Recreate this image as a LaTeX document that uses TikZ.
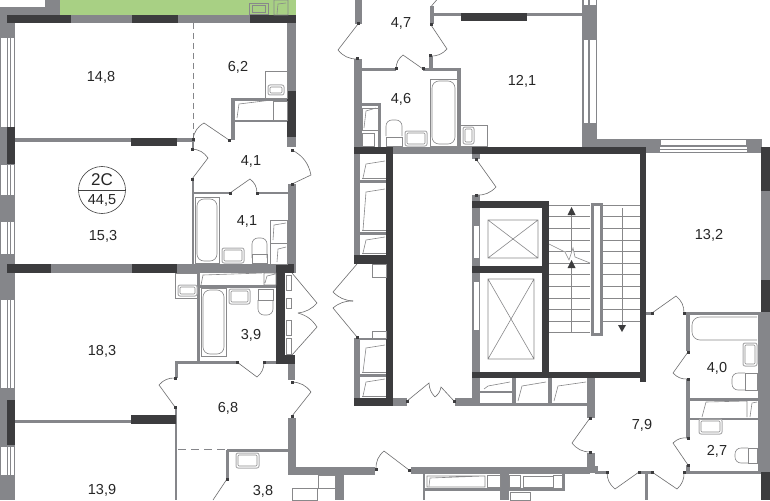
\documentclass[tikz,border=0pt]{standalone}
\usepackage{fontspec}
\setmainfont{Liberation Sans}
\definecolor{wallgray}{HTML}{85868A}
\definecolor{walldark}{HTML}{3C3C3E}
\definecolor{balcony}{HTML}{A8D084}
\definecolor{fixgray}{HTML}{88888A}
\tikzset{
    graywall/.style={fill=wallgray},
    darkwall/.style={fill=walldark},
    fixture/.style={draw=fixgray,line width=0.6pt},
    doorline/.style={draw=fixgray!80!black,line width=0.6pt},
    hinge/.style={fill=walldark},
    area/.style={font=\fontsize{14.5}{16}\selectfont,text=black!85,inner sep=0pt}
}
% door: hinge point, tip of the leaf, end of the arc, bend
\newcommand{\doorleaf}[4]{
    \draw[doorline] (#1) -- (#2) to[#4] (#3);
    \fill[hinge] ($(#1)+(-1.5,-1.5)$) rectangle ($(#1)+(1.5,1.5)$);
    \fill[hinge] ($(#3)+(-1.5,-1.5)$) rectangle ($(#3)+(1.5,1.5)$);
}
\newcommand{\bathtub}[4]{
    \draw[fixture] (#1,#2) rectangle (#3,#4);
    \draw[fixture,rounded corners=7pt] (#1+2,#2+2) rectangle (#3-2,#4-2);
}
\newcommand{\basin}[4]{
    \draw[fixture,rounded corners=2pt,line width=1pt,draw=fixgray!70] (#1,#2) rectangle (#3,#4);
    \draw[fixture,rounded corners=1pt] (#1+2,#2+2) rectangle (#3-2,#4-2);
}
\usetikzlibrary{calc}
\begin{document}
\begin{tikzpicture}[x=1pt,y=-1pt]
    \clip (0,0) rectangle (770,500);
    \fill[white] (0,0) rectangle (770,500);
    \fill[balcony] (60,0) rectangle (296,15);
    \fill[graywall] (0,7) rectangle (60,15);
    \fill[graywall] (45,0) rectangle (60,7);

    % walls, gray
    \foreach \xa/\ya/\xb/\yb in {0/15/15/500, 7/15/296/23, 15/138/195/142, 287/23/296/147,
        231/98/235/140, 235/98/287/101, 235/120/287/122, 192/140/194/150, 192/179/194/264,
        194/192/230/194, 257/192/288/194, 288/184/296/264, 15/264/296/273,
        199/285/277/288, 197/273/200/362, 175/361/237/364, 264/361/277/364, 175/362/178/378,
        175/407/177/500, 15/420/132/423, 227/449/288/452, 226/450/229/480, 288/364/295/380,
        288/418/296/473, 288/467/375/475, 411/467/590/474, 587/378/595/418, 587/453/595/473,
        335/473/344/500, 423/473/425/500, 500/473/509/500, 562/473/565/490, 423/488/565/491,
        355/0/362/24, 354/59/362/147, 362/68/396/71, 423/68/461/71, 429/56/433/68, 457/68/461/147,
        378/103/381/147, 362/103/381/106, 430/6/434/24, 434/13/582/16, 582/0/597/147,
        597/139/660/147, 660/139/747/153, 645/139/660/153, 747/139/762/153, 393/147/472/154,
        354/147/360/258, 354/338/360/400, 360/180/387/183, 360/232/387/235, 360/338/387/340,
        360/374/387/377, 393/398/407/406, 455/398/480/406, 472/147/480/159, 472/195/480/202,
        472/208/480/372, 472/378/480/405, 512/378/516/405, 548/378/552/405, 480/403/588/406,
        480/391/512/393, 646/312/652/315, 684/312/762/315, 686/315/690/351, 686/379/690/438,
        686/465/690/471, 690/398/761/401, 690/418/761/420, 595/471/607/474, 639/471/652/474,
        645/474/648/500, 684/471/762/474, 761/147/770/500, 595/466/598/474, 758/315/761/471}
        \fill[graywall] (\xa,\ya) rectangle (\xb,\yb);
    % walls, dark
    \foreach \xa/\ya/\xb/\yb in {7/15/71/23, 132/15/178/23, 250/15/296/23, 287/91/296/137,
        7/127/15/164, 131/138/177/146, 7/264/51/273, 132/264/177/273, 276/264/294/273,
        276/264/285/364, 276/355/295/364, 7/400/15/445, 131/415/176/424, 461/13/527/21,
        354/147/393/154, 472/147/646/154, 386/147/393/406, 354/255/393/264, 354/398/393/406,
        640/147/646/382, 472/372/646/378, 472/201/549/208, 472/266/543/273, 542/201/549/378,
        761/147/770/191, 761/280/770/312, 761/472/770/500}
        \fill[darkwall] (\xa,\ya) rectangle (\xb,\yb);
    % windows
    \foreach \ya/\yb in {38/127, 165/195, 222/254, 300/388, 447/475}{
        \fill[white] (1,\ya) rectangle (6.5,\yb);
        \fill[white] (7.5,\ya) rectangle (10,\yb);
        \fill[white] (11,\ya) rectangle (14,\yb);
    }
    \foreach \ya/\yb in {40/123, -5/5}{
        \fill[white] (584,\ya) rectangle (588,\yb);
        \fill[white] (589.5,\ya) rectangle (596,\yb);
    }
    \fill[white] (661,140) rectangle (746,145);
    \fill[white] (660,146.5) rectangle (747,148.5);
    \fill[white] (660,150) rectangle (747,152);
    \fill[white] (473.5,226) rectangle (479,258);
    \fill[white] (473.5,282) rectangle (479,330);
    \fill[wallgray] (591,203) rectangle (603,336);
    \fill[white] (594,206) rectangle (600,333);

    \draw[wallgray,line width=0.8pt,dash pattern=on 6pt off 4pt] (193.5,23) -- (193.5,138);
    \draw[wallgray,line width=1.2pt,dash pattern=on 8pt off 5pt] (178,449.5) -- (225,449.5);

    % doors
    \doorleaf{229,140}{204,123}{193,139}{bend right=25}
    \doorleaf{192,179}{208,158}{192,149}{bend right=25}
    \doorleaf{230,193}{250,179}{257,193}{bend left=25}
    \doorleaf{292,184}{311,175}{292,150}{bend right=25}
    \doorleaf{237,362}{257,377}{264,362}{bend right=25}
    \doorleaf{175,407}{159,385}{175,378}{bend left=25}
    \doorleaf{292,416}{311,392}{292,382}{bend right=25}
    \draw[doorline] (227,479) -- (213,500);
    \fill[hinge] (225.5,477.5) rectangle (228.5,480.5);
    \doorleaf{409,470}{384,451}{376,469}{bend right=25}
    \doorleaf{590,418}{572,443}{590,452}{bend right=25}
    \draw[doorline] (292,273) -- (317,303) to[bend left=20] (298,313);
    \draw[doorline] (292,355) -- (317,327) to[bend right=20] (298,313);
    \draw[doorline] (357,264) -- (333,292) to[bend right=20] (353,301);
    \draw[doorline] (357,337) -- (333,308) to[bend left=20] (353,301);
    \fill[hinge] (355.5,335.5) rectangle (358.5,338.5);
    \doorleaf{358,24}{338,50}{357,59}{bend right=25}
    \doorleaf{431,25}{447,49}{430,56}{bend left=25}
    \doorleaf{423,69}{403,55}{396,69}{bend right=25}
    \draw[doorline] (431.5,6) -- (440,-4);
    \doorleaf{476,159}{496,187}{476,195}{bend left=25}
    \draw[doorline] (407,401) -- (429,383) to[bend right=20] (435,397);
    \draw[doorline] (454,401) -- (441,387) to[bend left=20] (435,397);
    \fill[hinge] (405.5,399.5) rectangle (408.5,402.5);
    \fill[hinge] (452.5,399.5) rectangle (455.5,402.5);
    \doorleaf{652,313}{676,296}{684,313}{bend left=25}
    \doorleaf{688,352}{673,373}{688,379}{bend right=25}
    \doorleaf{688,465}{673,443}{688,438}{bend left=25}
    \doorleaf{639,472}{615,489}{607,472}{bend left=25}
    \doorleaf{652,472}{677,489}{684,472}{bend right=25}

    % elevators
    \draw[fixture] (488,220) rectangle (538,258) (488,220) -- (538,258) (488,258) -- (538,220);
    \draw[fixture] (488,279) rectangle (534,359) (488,279) -- (534,359) (488,359) -- (534,279);
    % stairs
    \foreach \ya in {205,216.6,228.2,239.8,251.4,263,274.6,286.2,297.8,309.4,321}{
        \draw[fixture] (549,\ya) -- (590,\ya);
        \draw[fixture] (603,\ya) -- (640,\ya);
    }
    \draw[fixture] (549,332) -- (590,332);
    \draw[fixture] (571.5,332) -- (571.5,268);
    \draw[fixture] (571.5,252) -- (571.5,212);
    \draw[fixture] (622,208) -- (622,326);
    \fill[walldark] (567.5,215) -- (575.5,215) -- (571.5,207) -- cycle;
    \fill[walldark] (567.5,268) -- (575.5,268) -- (571.5,260) -- cycle;
    \fill[walldark] (618,325) -- (626,325) -- (622,332) -- cycle;
    \draw[fill=white,draw=fixgray,line width=0.6pt] (549,244) -- (565,252) -- (569,260) -- (573,248) -- (575,257) -- (590,263);

    % kitchen boxes and plumbing
    \draw[fixture] (265,71) rectangle (287,98);
    \basin{268}{85}{284}{95}
    \draw[fixture] (237,118) -- (239,104) -- (272,100);
    \draw[fixture] (273,101) rectangle (287,120);
    \draw[fixture] (249,3) rectangle (268,14) (252,5) rectangle (265,12);
    \draw[fixture] (274,0) rectangle (288,15) (277,14) -- (278,4) -- (286,3);
    \bathtub{195}{197}{219}{263}
    \basin{222}{248}{244}{263}
    \draw[fixture,rounded corners=6pt] (252,258) -- (252,238) -- (267,238) -- (267,258);
    \draw[fixture] (252,254) rectangle (267,263);
    \draw[fixture] (270,220) rectangle (287,264) (270,243) -- (287,243);
    \draw[fixture] (273,240) -- (274,225) -- (286,223) (277,262) -- (278,249) -- (286,247);
    \draw[fixture] (175,273) rectangle (199,298);
    \basin{178}{285}{197}{296}
    \draw[fixture] (201,285) -- (203,275) -- (262,273);
    \draw[fixture] (264,273) rectangle (276,285) (265,283) -- (267,276) -- (275,274);
    \bathtub{201}{288}{226}{356}
    \basin{229}{289}{250}{304}
    \draw[fixture,rounded corners=6pt] (258,300) -- (258,315) -- (273,315) -- (273,300);
    \draw[fixture] (258,289) rectangle (273,300);
    \foreach \ya/\yb in {275/290, 298/308, 320/335, 338/354}
        \draw[fixture] (286,\ya) rectangle (291,\yb);

    \foreach \ya/\yb in {160/180, 188/232, 236/255, 344/374, 378/398}{
        \draw[fixture] (363,\yb-2) -- (366,\ya+4) -- (385,\ya+1);
        \draw[fixture] (362,\yb-2) -- (386,\yb-2);
    }
    \draw[fixture] (372,264) rectangle (386,277) (372,331) rectangle (386,338);
    \draw[fixture] (362,108) rectangle (378,130) (362,133) rectangle (374,146);
    \draw[fixture] (364,128) -- (366,111) -- (376,108);
    \bathtub{430}{79}{457}{146}
    \basin{405}{131}{427}{146}
    \draw[fixture,rounded corners=6pt] (386,136) -- (386,120) -- (402,120) -- (402,136);
    \draw[fixture] (386,137) rectangle (402,146);
    \draw[fixture] (460,125) rectangle (487,146);
    \basin{463}{127}{474}{144}

    \foreach \xa/\xb/\ya/\yb in {482/512/380/391, 516/548/380/403, 552/588/380/403}{
        \draw[fixture] (\xa+2,\yb-2) -- (\xa+6,\ya+6) -- (\xb-2,\ya+2);
    }
    \draw[fixture] (427,476) rectangle (485,487) (429,486) -- (430,478) -- (484,476);
    \draw[fixture] (487,475) rectangle (500,487) (509,475) rectangle (520,487) (523,476) rectangle (553,487) (553,475) rectangle (562,488);
    \draw[fixture] (318,475) rectangle (335,488) (292,488) rectangle (317,500);
    \basin{236}{453}{259}{468}
    \draw[fixture] (510,492) rectangle (530,500);

    \draw[fixture,rounded corners=8pt] (757,317) -- (692,317) -- (692,340) -- (757,340);
    \basin{743}{343}{757}{366}
    \draw[fixture,rounded corners=6pt] (745,373) -- (732,373) -- (732,390) -- (745,390);
    \draw[fixture] (745,373) rectangle (757,390);
    \draw[fixture] (702,417) -- (706,402) -- (747,401) -- (747,417);
    \draw[fixture] (750,417) -- (752,403) -- (757,402);
    \basin{699}{419}{722}{434}
    \draw[fixture,rounded corners=6pt] (748,448) -- (735,448) -- (735,463) -- (748,463);
    \draw[fixture] (748,448) rectangle (757,463);

    % apartment mark
    \node[draw=black!75,circle,minimum size=47pt,inner sep=0pt,line width=0.6pt] (mark) at (102,190) {};
    \draw[black!75,line width=0.6pt] (mark.west) -- (mark.east);
    \node[font=\fontsize{17}{18}\selectfont,text=black!85,inner sep=0pt] (marktop) at (102,180) {2C};
    \node[area] (markarea) at (102,200) {44,5};

    % areas
    \node[area] (r148) at (101,77) {14,8};
    \node[area] (r62) at (238,67) {6,2};
    \node[area] (r41a) at (251,161) {4,1};
    \node[area] (r41b) at (247,221) {4,1};
    \node[area] (r153) at (103,236) {15,3};
    \node[area] (r183) at (102,351) {18,3};
    \node[area] (r39) at (251,335) {3,9};
    \node[area] (r68) at (228,408) {6,8};
    \node[area] (r139) at (102,490) {13,9};
    \node[area] (r38) at (263,491) {3,8};
    \node[area] (r47) at (401,23) {4,7};
    \node[area] (r46) at (401,99) {4,6};
    \node[area] (r121) at (522,81) {12,1};
    \node[area] (r132) at (709,235) {13,2};
    \node[area] (r40) at (717,368) {4,0};
    \node[area] (r79) at (642,425) {7,9};
    \node[area] (r27) at (717,451) {2,7};
\end{tikzpicture}
\end{document}
